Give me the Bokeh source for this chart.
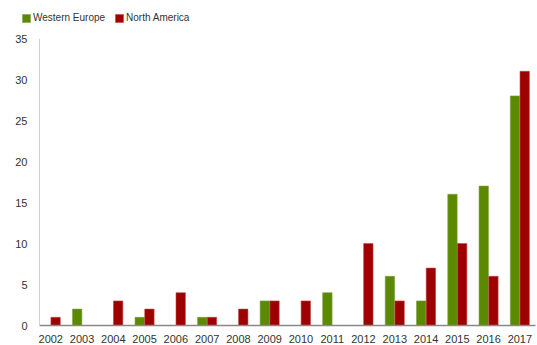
from bokeh.plotting import figure
from bokeh.layouts import column
from bokeh.models import ColumnDataSource, Range1d, FixedTicker, Legend, LegendItem
from bokeh.embed import file_html
from bokeh.resources import INLINE

years = [2002, 2003, 2004, 2005, 2006, 2007, 2008, 2009,
         2010, 2011, 2012, 2013, 2014, 2015, 2016, 2017]
western_europe = [0, 2, 0, 1, 0, 1, 0, 3, 0, 4, 0, 6, 3, 16, 17, 28]
north_america = [1, 0, 3, 2, 4, 1, 2, 3, 3, 0, 10, 3, 7, 10, 6, 31]
y_ticks = [0, 5, 10, 15, 20, 25, 30, 35]
series_names = ["Western Europe", "North America"]

GREEN = "#5b8a00"
RED = "#9e0000"
GREEN_EDGE = "#7fa040"
RED_EDGE = "#c04848"
FONT = "Liberation Sans"

src = ColumnDataSource(dict(
    year=years,
    we_x=[y - 0.155 for y in years],
    na_x=[y + 0.155 for y in years],
    we=western_europe,
    na=north_america,
))

# Main bar chart
p = figure(width=537, height=314, output_backend="svg", toolbar_location=None,
           x_range=Range1d(2002 - 0.36, 2017 + 0.5), y_range=Range1d(0, 35),
           min_border_left=39, min_border_right=2, min_border_top=7,
           min_border_bottom=17)
p.outline_line_color = None
p.grid.visible = False
p.frame_align = False

p.vbar(x="we_x", top="we", width=0.3, source=src,
       fill_color=GREEN, line_color=GREEN_EDGE, line_width=0.6)
p.vbar(x="na_x", top="na", width=0.3, source=src,
       fill_color=RED, line_color=RED_EDGE, line_width=0.6)

xa = p.xaxis[0]
xa.ticker = FixedTicker(ticks=years)
xa.axis_line_color = "#888888"
xa.axis_line_width = 1.5
xa.major_tick_line_color = None
xa.minor_tick_line_color = None
xa.major_label_standoff = 3
xa.major_label_text_font = FONT
xa.major_label_text_font_size = "11px"
xa.major_label_text_color = "#333333"

ya = p.yaxis[0]
ya.ticker = FixedTicker(ticks=y_ticks)
ya.axis_line_color = "#d0d0d0"
ya.major_tick_line_color = None
ya.minor_tick_line_color = None
ya.major_label_standoff = 6
ya.major_label_text_font = FONT
ya.major_label_text_font_size = "11px"
ya.major_label_text_color = "#333333"

# Legend strip above the chart; its key glyphs hold no visible data
lg = figure(width=537, height=31, output_backend="svg", toolbar_location=None,
            x_range=Range1d(0, 1), y_range=Range1d(0, 1),
            x_axis_location=None, y_axis_location=None,
            min_border=0, min_border_left=0, min_border_right=0,
            min_border_top=0, min_border_bottom=0)
lg.outline_line_color = None
lg.grid.visible = False
lg.frame_align = False
nan = float("nan")
keys = ColumnDataSource(dict(x=[nan], top=[nan]))
key_we = lg.vbar(x="x", top="top", width=0.1, source=keys,
                 fill_color=GREEN, line_color=GREEN_EDGE, line_width=0.6)
key_na = lg.vbar(x="x", top="top", width=0.1, source=keys,
                 fill_color=RED, line_color=RED_EDGE, line_width=0.6)

legend = Legend(items=[LegendItem(label=series_names[0], renderers=[key_we], index=0),
                       LegendItem(label=series_names[1], renderers=[key_na], index=0)],
                orientation="horizontal", location=(21, 8),
                glyph_width=10, glyph_height=10, label_standoff=2, spacing=9,
                padding=0, margin=0, border_line_color=None,
                background_fill_alpha=0,
                label_text_font=FONT, label_text_font_size="10px",
                label_text_color="#333333")
lg.add_layout(legend, "center")

page = column(lg, p, spacing=0)
open("out.html", "w").write(file_html(page, INLINE))
